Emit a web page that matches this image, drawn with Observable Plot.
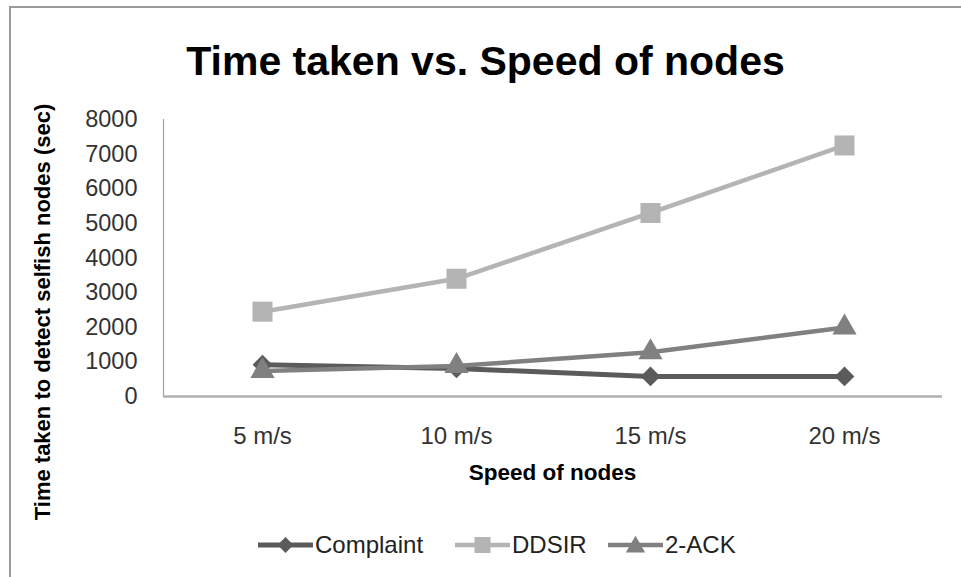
<!DOCTYPE html>
<html>
<head>
<meta charset="utf-8">
<script src="https://cdn.jsdelivr.net/npm/d3@7"></script>
<script src="https://cdn.jsdelivr.net/npm/@observablehq/plot@0.6"></script>
<style>
  html, body { margin: 0; padding: 0; background: #fff; }
  #wrap { position: relative; width: 961px; height: 577px; background: #fff; overflow: hidden; font-family: "Liberation Sans", Arial, sans-serif; }
  #frame { position: absolute; left: 9px; top: 6px; width: 980px; height: 600px; border-top: 2px solid #9a9a9a; border-left: 2px solid #9a9a9a; }
  #title { position: absolute; left: 10px; width: 951px; top: 41px; text-align: center; font-weight: bold; font-size: 41px; line-height: 41px; color: #000; white-space: nowrap; }
  #ylabel { position: absolute; width: 500px; height: 26px; line-height: 26px; left: -207px; top: 299px; text-align: center; transform: rotate(-90deg); transform-origin: 50% 50%; font-weight: bold; font-size: 22px; color: #000; white-space: nowrap; }
  #xlabel { position: absolute; left: 163px; width: 779px; top: 460px; text-align: center; font-weight: bold; font-size: 22.5px; line-height: 26px; color: #000; }
  #chart { position: absolute; left: 0; top: 100px; }
  .leg { position: absolute; top: 532px; height: 26px; display: flex; align-items: center; font-size: 24px; color: #222; white-space: nowrap; }
  .leg svg { margin-right: 2px; }
</style>
</head>
<body>
<div id="wrap">
  <div id="frame"></div>
  <div id="title"></div>
  <div id="ylabel"></div>
  <div id="xlabel"></div>
  <div id="chart"></div>
  <div id="legend"></div>
</div>
<script>
// ---- data ----
const categories = ["5 m/s", "10 m/s", "15 m/s", "20 m/s"];
const seriesNames = ["Complaint", "DDSIR", "2-ACK"];
const complaint = [920, 810, 580, 580];
const ddsir = [2450, 3400, 5300, 7250];
const ack2 = [740, 880, 1280, 1990];
const yTicks = [0, 1000, 2000, 3000, 4000, 5000, 6000, 7000, 8000];
const titleText = "Time taken vs. Speed of nodes";
const yLabelText = "Time taken to detect selfish nodes (sec)";
const xLabelText = "Speed of nodes";

// ---- styles ----
const colors = { "Complaint": "#5b5b5b", "DDSIR": "#b4b4b4", "2-ACK": "#808080" };
const widths = { "Complaint": 5, "DDSIR": 4.5, "2-ACK": 4.5 };
const symbols = { "Complaint": "diamond2", "DDSIR": "square", "2-ACK": "triangle" };
const radii = { "Complaint": 8.9, "DDSIR": 11.3, "2-ACK": 9.0 };

const valuesBySeries = { "Complaint": complaint, "DDSIR": ddsir, "2-ACK": ack2 };
const rows = seriesNames.flatMap(s => categories.map((c, i) => ({ series: s, cat: c, value: valuesBySeries[s][i] })));

document.getElementById("title").textContent = titleText;
document.getElementById("ylabel").textContent = yLabelText;
document.getElementById("xlabel").textContent = xLabelText;

const lineMarks = seriesNames.map(s => Plot.line(rows.filter(d => d.series === s), {
  x: "cat", y: "value", stroke: colors[s], strokeWidth: widths[s], strokeLinejoin: "round", strokeLinecap: "butt"
}));
const dotMarks = seriesNames.map(s => Plot.dot(rows.filter(d => d.series === s), {
  x: "cat", y: "value", symbol: () => symbols[s], r: radii[s], fill: colors[s], stroke: "none"
}));

const plot = Plot.plot({
  width: 961,
  height: 420,
  marginLeft: 163,
  marginRight: 19,
  marginTop: 19,
  marginBottom: 124,
  style: { fontFamily: "'Liberation Sans', Arial, sans-serif", fontSize: "23px", color: "#333", background: "transparent" },
  x: { type: "point", domain: categories, padding: 0.5, label: null },
  y: { domain: [0, 8000], ticks: yTicks, label: null },
  symbol: { type: "identity" },
  marks: [
    Plot.axisY({ ticks: yTicks, tickSize: 0, tickPadding: 26, fontSize: 23.5, label: null, tickFormat: d => String(d) }),
    Plot.axisX({ tickSize: 0, tickPadding: 30, fontSize: 24, label: null }),
    Plot.frame({ anchor: "left", stroke: "#a0a0a0", strokeWidth: 1.2 }),
    Plot.ruleY([0], { stroke: "#b0b0b0", strokeWidth: 2.5 }),
    ...lineMarks,
    ...dotMarks
  ]
});
document.getElementById("chart").appendChild(plot);

// ---- legend ----
const legLeft = { "Complaint": 258, "DDSIR": 455, "2-ACK": 608 };
const legendDiv = document.getElementById("legend");
seriesNames.forEach(s => {
  const item = document.createElement("div");
  item.className = "leg";
  item.style.left = legLeft[s] + "px";
  const svg = d3.create("svg").attr("width", 55).attr("height", 26);
  svg.append("line").attr("x1", 0).attr("x2", 55).attr("y1", 13).attr("y2", 13)
    .attr("stroke", colors[s]).attr("stroke-width", widths[s]);
  const symType = { "diamond2": d3.symbolDiamond2, "square": d3.symbolSquare, "triangle": d3.symbolTriangle }[symbols[s]];
  const scale = 0.8;
  svg.append("path").attr("transform", `translate(27.5,${s === "2-ACK" ? 15 : 13})`)
    .attr("d", d3.symbol(symType, Math.PI * (radii[s] * scale) ** 2)())
    .attr("fill", colors[s]);
  item.appendChild(svg.node());
  const t = document.createElement("span");
  t.textContent = s;
  item.appendChild(t);
  legendDiv.appendChild(item);
});
</script>
</body>
</html>
